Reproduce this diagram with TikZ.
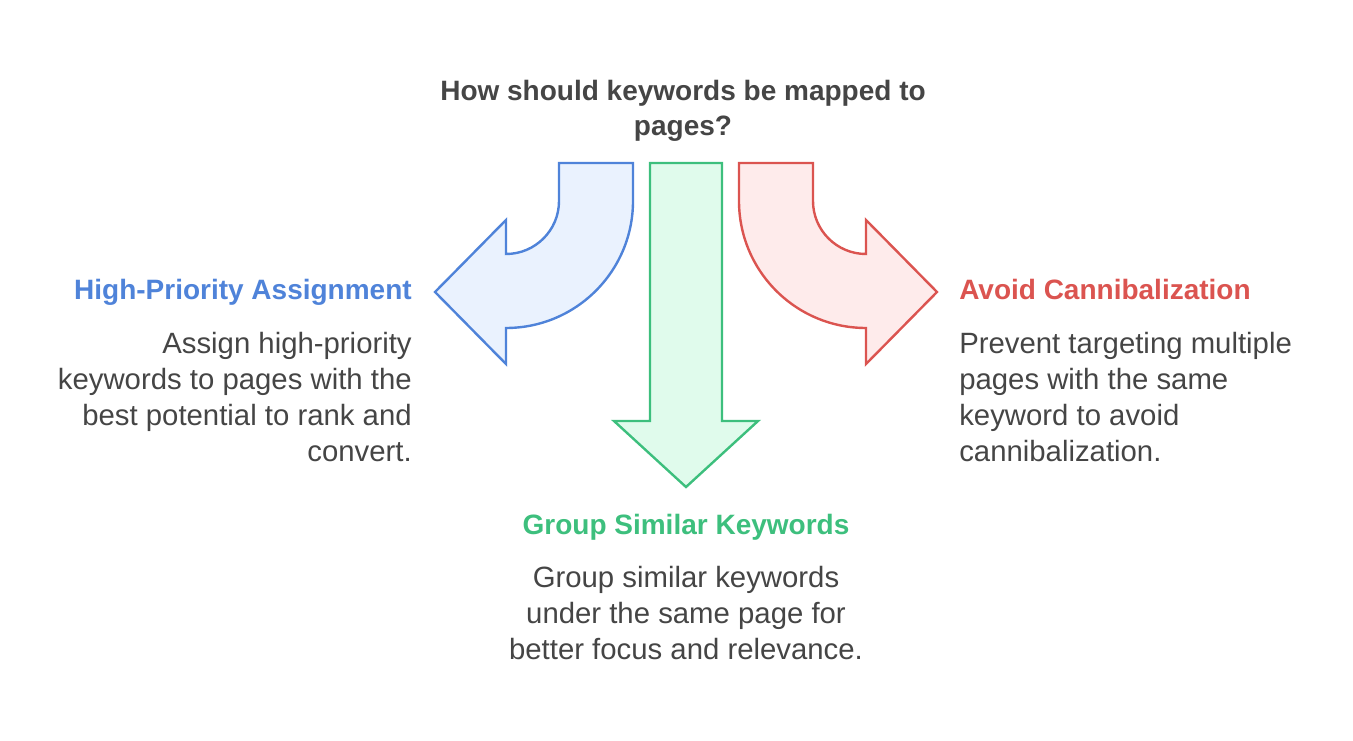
\documentclass[tikz,border=0pt]{standalone}
\usepackage{fontspec}
\setmainfont{Liberation Sans}
\begin{document}
\begin{tikzpicture}[x=0.75pt,y=-0.75pt,
  arr/.style={line width=1.8pt,line join=miter},
  body/.style={inner sep=0pt,text=txt,font=\fontsize{22}{27}\selectfont},
  head/.style={inner sep=0pt,font=\bfseries\fontsize{21}{24}\selectfont}]
\definecolor{txt}{HTML}{454545}
\definecolor{bl}{HTML}{4F83D9}\definecolor{blf}{HTML}{EAF2FE}
\definecolor{gr}{HTML}{3DBF7D}\definecolor{grf}{HTML}{E0FBEC}
\definecolor{rd}{HTML}{DB5450}\definecolor{rdf}{HTML}{FEEBEB}
\useasboundingbox (0,0) rectangle (1353,741);
% left arrow
\draw[arr,draw=bl,fill=blf] (559,163) -- (633,163) -- (633,201) arc[start angle=0,end angle=90,radius=127] -- (506,364) -- (435,292) -- (506,220) -- (506,254) arc[start angle=90,end angle=0,radius=53] -- cycle;
% middle arrow
\draw[arr,draw=gr,fill=grf] (650,163) -- (722,163) -- (722,421) -- (758,421) -- (686,487) -- (614,421) -- (650,421) -- cycle;
% right arrow
\draw[arr,draw=rd,fill=rdf] (813,163) -- (739,163) -- (739,201) arc[start angle=180,end angle=90,radius=127] -- (866,364) -- (937,292) -- (866,220) -- (866,254) arc[start angle=90,end angle=180,radius=53] -- cycle;
\node[head,text=txt,align=center] (t) at (683,111) {How should keywords be mapped to\\[2pt]pages?};
\node[head,text=bl,anchor=base east] (h1) at (412,300) {High-Priority Assignment};
\node[head,text=rd,anchor=base west] (h3) at (959,300) {Avoid Cannibalization};
\node[head,text=gr,anchor=base] (h2) at (686,534) {Group Similar Keywords};
\node[body,align=right,anchor=north east] (b1) at (412,332) {Assign high-priority\\keywords to pages with the\\best potential to rank and\\convert.};
\node[body,align=left,anchor=north west] (b3) at (959,332) {Prevent targeting multiple\\pages with the same\\keyword to avoid\\cannibalization.};
\node[body,align=center,anchor=north] (b2) at (686,566) {Group similar keywords\\under the same page for\\better focus and relevance.};
\end{tikzpicture}
\end{document}
